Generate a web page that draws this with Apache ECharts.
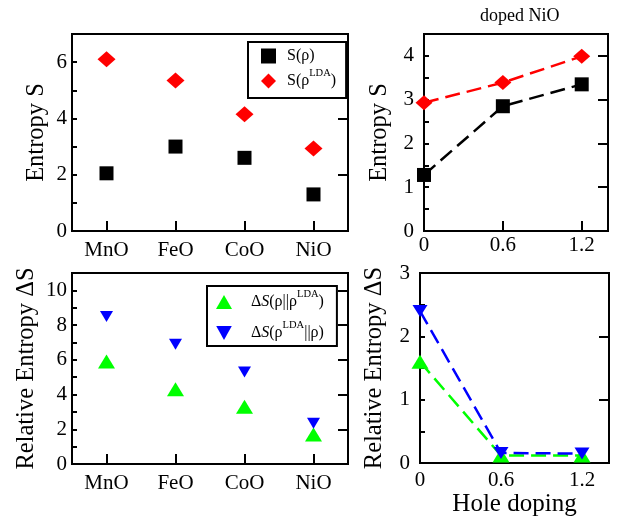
<!DOCTYPE html>
<html><head><meta charset="utf-8">
<script src="https://cdn.jsdelivr.net/npm/echarts@6/dist/echarts.min.js"></script>
<style>html,body{margin:0;padding:0;background:#fff}#c{width:619px;height:518px}</style>
</head><body><div id="c"></div>
<script>
// ---- data ----
const oxides = ['MnO', 'FeO', 'CoO', 'NiO'];
const entropyRho = [2.05, 3.0, 2.6, 1.3];
const entropyLDA = [6.1, 5.35, 4.15, 2.93];
const relRhoLDA = [5.9, 4.3, 3.3, 1.7];
const relLDARho = [8.5, 6.9, 5.3, 2.35];
const holeDoping = [0, 0.6, 1.2];
const dopedEntropyRho = [1.28, 2.85, 3.35];
const dopedEntropyLDA = [2.93, 3.39, 3.99];
const dopedRelRhoLDA = [1.6, 0.12, 0.12];
const dopedRelLDARho = [2.4, 0.16, 0.15];
const holeTickLabels = [0, 0.6, 1.2];

const FONT = 'Liberation Serif';
const near = (v, arr) => arr.some(a => Math.abs(a - v) < 1e-6);
const multipleOf = (v, s) => Math.abs(v / s - Math.round(v / s)) < 1e-6;

function catX(grid, margin) {
  return {
    type: 'category', gridIndex: grid, data: oxides, boundaryGap: true,
    axisLine: { show: false },
    axisTick: { show: true, inside: true, alignWithLabel: true, length: 10, lineStyle: { color: '#000', width: 2 } },
    axisLabel: { fontFamily: FONT, fontSize: 21, color: '#000', margin: margin },
    splitLine: { show: false }
  };
}
function holeX(grid, margin, extra) {
  return Object.assign({
    type: 'value', gridIndex: grid, min: 0, max: 1.4, interval: 0.6,
    axisLine: { show: false },
    axisTick: { show: true, inside: true, length: 10, lineStyle: { color: '#000', width: 2 } },
    axisLabel: { fontFamily: FONT, fontSize: 21, color: '#000', margin: margin, showMaxLabel: false,
      formatter: v => near(v, holeTickLabels) ? String(Math.round(v * 10) / 10) : '' },
    splitLine: { show: false }
  }, extra || {});
}
// minor-tick axis carrying labels
function yMinor(grid, max, step, major, margin, name, nameGap) {
  return {
    type: 'value', gridIndex: grid, min: 0, max: max, interval: step,
    axisLine: { show: false },
    axisTick: { show: true, inside: true, length: 5, lineStyle: { color: '#000', width: 2 } },
    axisLabel: { fontFamily: FONT, fontSize: 21, color: '#000', margin: margin,
      formatter: v => multipleOf(v, major) ? String(v) : '' },
    splitLine: { show: false },
    name: name, nameLocation: 'middle', nameGap: nameGap,
    nameTextStyle: { fontFamily: FONT, fontSize: 24.5, color: '#000' }
  };
}
// major-tick overlay axis
function yMajor(grid, max, major) {
  return {
    type: 'value', gridIndex: grid, min: 0, max: max, interval: major,
    axisLine: { show: false },
    axisTick: { show: true, inside: true, length: 10, lineStyle: { color: '#000', width: 2 } },
    axisLabel: { show: false }, splitLine: { show: false }
  };
}
const gridBox = { show: true, borderColor: '#000', borderWidth: 2, backgroundColor: 'transparent' };

const richStyles = {
  n: { fontFamily: FONT, fontSize: 16, color: '#000', lineHeight: 26, verticalAlign: 'middle' },
  i: { fontFamily: FONT, fontSize: 16, color: '#000', fontStyle: 'italic', lineHeight: 26, verticalAlign: 'middle' },
  s: { fontFamily: FONT, fontSize: 10.5, color: '#000', lineHeight: 10, verticalAlign: 'top' }
};
const legendLabels = {
  'S(ρ)': '{n|S(ρ)}',
  'S(ρLDA)': '{n|S(ρ}{s|LDA}{n|)}',
  'ΔS(ρ||ρLDA)': '{n|Δ}{i|S}{n|(ρ||ρ}{s|LDA}{n|)}',
  'ΔS(ρLDA||ρ)': '{n|Δ}{i|S}{n|(ρ}{s|LDA}{n|||ρ)}'
};
const downTriangle = 'path://M0,0 L10,0 L5,9 Z';
const dash = [15, 7];

const option = {
  animation: false,
  backgroundColor: '#fff',
  title: {
    text: 'doped NiO', left: 480, top: 7, padding: 0,
    textStyle: { fontFamily: FONT, fontSize: 18, fontWeight: 'normal', color: '#000' }
  },
  grid: [
    Object.assign({ left: 72, top: 34, width: 276, height: 197 }, gridBox),
    Object.assign({ left: 424, top: 34, width: 184, height: 197 }, gridBox),
    Object.assign({ left: 72, top: 273, width: 276, height: 191 }, gridBox),
    Object.assign({ left: 420, top: 273, width: 189, height: 191 }, gridBox)
  ],
  xAxis: [
    catX(0, 9),
    holeX(1, 4),
    catX(2, 9),
    holeX(3, 7, { name: 'Hole doping', nameLocation: 'middle', nameGap: 27,
      nameTextStyle: { fontFamily: FONT, fontSize: 25, color: '#000' } })
  ],
  yAxis: [
    yMinor(0, 7, 1, 2, 5, 'Entropy S', 23),
    yMajor(0, 7, 2),
    yMinor(1, 4.5, 0.5, 1, 10, 'Entropy S', 32),
    yMajor(1, 4.5, 1),
    yMinor(2, 11, 1, 2, 5, 'Relative Entropy ΔS', 33),
    yMajor(2, 11, 2),
    yMinor(3, 3, 0.5, 1, 10, 'Relative Entropy ΔS', 33),
    yMajor(3, 3, 1)
  ],
  legend: [
    {
      data: [{ name: 'S(ρ)', icon: 'rect' }, { name: 'S(ρLDA)', icon: 'diamond' }],
      orient: 'vertical', left: 248, top: 42,
      padding: [6, 10, 9, 13], itemGap: 4, itemWidth: 15, itemHeight: 15,
      borderColor: '#000', borderWidth: 2, backgroundColor: '#fff',
      selectedMode: false,
      formatter: n => legendLabels[n],
      textStyle: { rich: richStyles, padding: [0, 0, 0, 6] }
    },
    {
      data: [{ name: 'ΔS(ρ||ρLDA)', icon: 'triangle' }, { name: 'ΔS(ρLDA||ρ)', icon: downTriangle }],
      orient: 'vertical', left: 207, top: 286,
      padding: [3, 13, 5, 9], itemGap: 10, itemWidth: 16, itemHeight: 14,
      borderColor: '#000', borderWidth: 2, backgroundColor: '#fff',
      selectedMode: false,
      formatter: n => legendLabels[n],
      textStyle: { rich: richStyles, padding: [0, 0, 0, 14] }
    }
  ],
  series: [
    { name: 'S(ρ)', type: 'scatter', xAxisIndex: 0, yAxisIndex: 0, data: entropyRho,
      symbol: 'rect', symbolSize: 14, itemStyle: { color: '#000', opacity: 1 } },
    { name: 'S(ρLDA)', type: 'scatter', xAxisIndex: 0, yAxisIndex: 0, data: entropyLDA,
      symbol: 'diamond', symbolSize: [18, 16], itemStyle: { color: '#ff0000', opacity: 1 } },

    { name: 'doped S(ρ)', type: 'line', xAxisIndex: 1, yAxisIndex: 2,
      data: holeDoping.map((x, k) => [x, dopedEntropyRho[k]]),
      symbol: 'rect', symbolSize: 14, showSymbol: true,
      itemStyle: { color: '#000' }, lineStyle: { color: '#000', width: 2.5, type: dash } },
    { name: 'doped S(ρLDA)', type: 'line', xAxisIndex: 1, yAxisIndex: 2,
      data: holeDoping.map((x, k) => [x, dopedEntropyLDA[k]]),
      symbol: 'diamond', symbolSize: [17, 15], showSymbol: true,
      itemStyle: { color: '#ff0000' }, lineStyle: { color: '#ff0000', width: 2.5, type: dash } },

    { name: 'ΔS(ρ||ρLDA)', type: 'scatter', xAxisIndex: 2, yAxisIndex: 4, data: relRhoLDA,
      symbol: 'triangle', symbolSize: [17, 14], itemStyle: { color: '#00ff00', opacity: 1 } },
    { name: 'ΔS(ρLDA||ρ)', type: 'scatter', xAxisIndex: 2, yAxisIndex: 4, data: relLDARho,
      symbol: 'triangle', symbolRotate: 180, symbolSize: [13, 11], itemStyle: { color: '#0000ff', opacity: 1 } },

    { name: 'doped ΔS(ρ||ρLDA)', type: 'line', xAxisIndex: 3, yAxisIndex: 6,
      data: holeDoping.map((x, k) => [x, dopedRelRhoLDA[k]]),
      symbol: 'triangle', symbolSize: [17, 14], showSymbol: true,
      itemStyle: { color: '#00ff00' }, lineStyle: { color: '#00ff00', width: 2.5, type: dash } },
    { name: 'doped ΔS(ρLDA||ρ)', type: 'line', xAxisIndex: 3, yAxisIndex: 6,
      data: holeDoping.map((x, k) => [x, dopedRelLDARho[k]]),
      symbol: 'triangle', symbolRotate: 180, symbolSize: [15, 12], showSymbol: true,
      itemStyle: { color: '#0000ff' }, lineStyle: { color: '#0000ff', width: 2.5, type: dash } }
  ]
};
const chart = echarts.init(document.getElementById('c'), null, { renderer: 'canvas' });
chart.setOption(option);
</script></body></html>
